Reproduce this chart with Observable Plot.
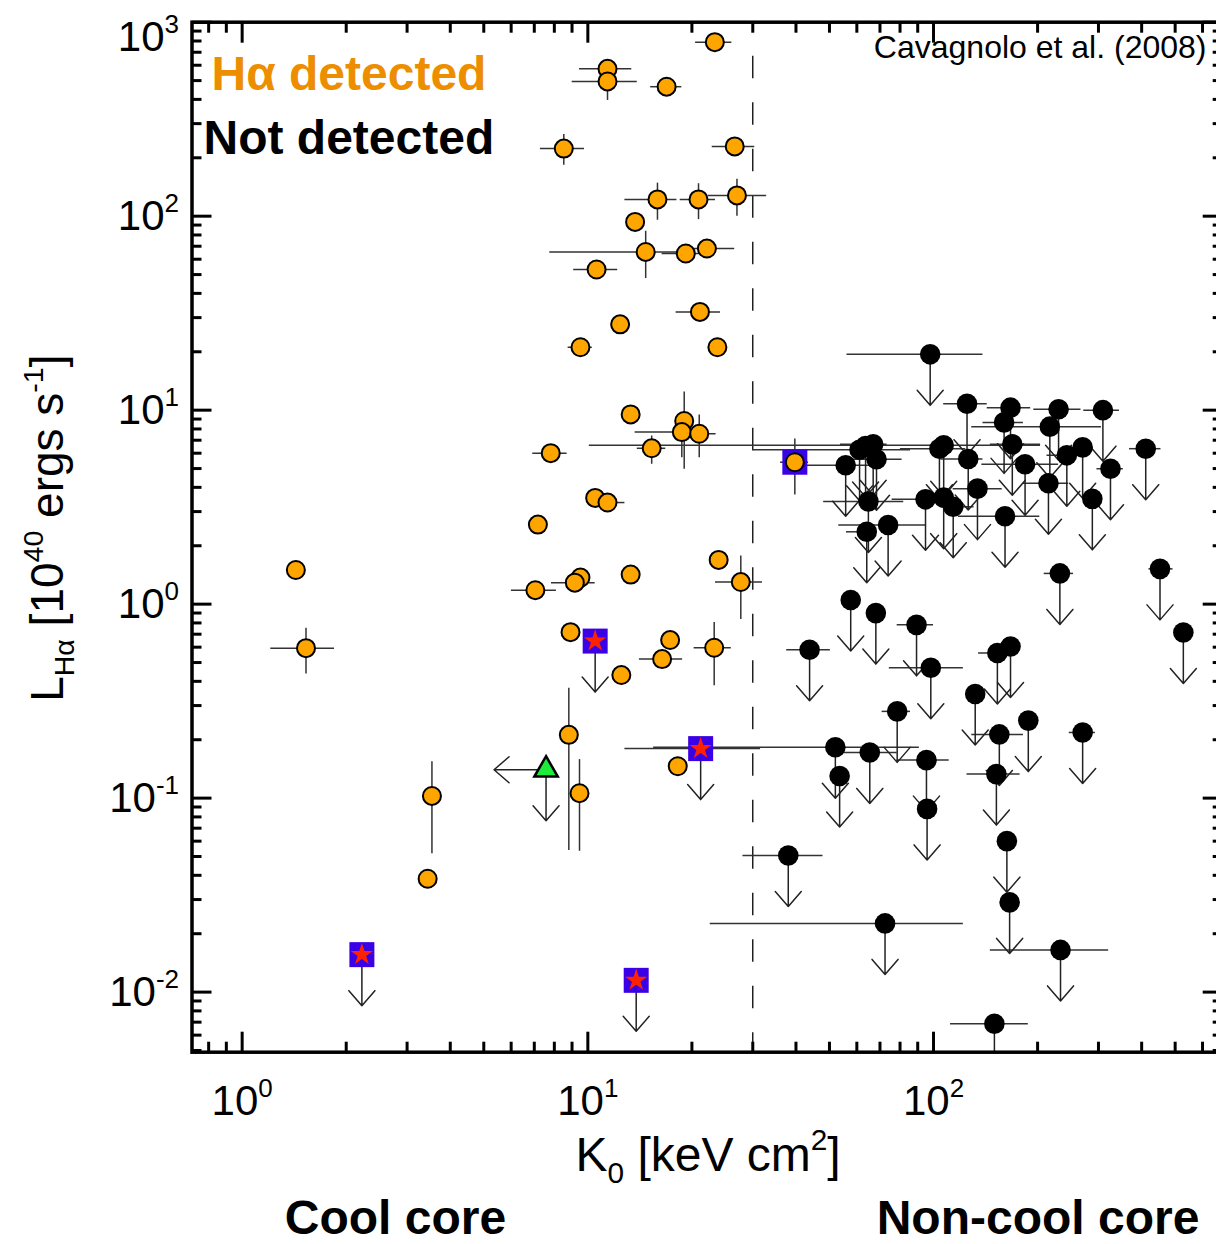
<!DOCTYPE html>
<html><head><meta charset="utf-8">
<script src="https://cdn.jsdelivr.net/npm/d3@7"></script>
<script src="https://cdn.jsdelivr.net/npm/@observablehq/plot@0.6"></script>
<style>
html,body{margin:0;padding:0;background:#fff;}
#wrap{width:1216px;height:1244px;overflow:hidden;position:relative;}
#wrap svg{display:block;max-width:none !important;}
</style></head><body><div id="wrap"></div>
<script>
// rows: [K0, L_Halpha, K_lo, K_hi, L_lo, L_hi]
const detected = [
 [23.3, 789, 20.5, 26.1, null, null],
 [11.4, 575, 9.46, 13.4, null, null],
 [11.4, 495, 9.01, 13.9, 395, 560],
 [16.9, 465, 15.2, 18.7, null, null],
 [8.52, 223, 7.29, 9.78, 183, 264],
 [26.6, 229, 22.9, 30.4, null, null],
 [15.9, 122, 12.8, 18.1, 95.3, 148],
 [20.9, 122, 18.5, 23.4, 96, 147],
 [27.0, 128, 22.3, 32.9, 99.9, 155],
 [13.7, 93.4, null, null, null, null],
 [14.7, 65.4, 7.76, 18.1, 47.7, 83.6],
 [19.2, 64.2, 16.4, 21.2, null, null],
 [22.1, 68.1, 19.8, 26.6, null, null],
 [10.6, 53.1, 9.1, 12.2, null, null],
 [12.4, 27.7, null, null, null, null],
 [21.1, 32.1, 18.0, 24.2, null, null],
 [9.52, 21.1, 8.77, 10.3, null, null],
 [23.7, 21.1, null, null, null, null],
 [13.3, 9.51, null, null, null, null],
 [19.0, 8.79, null, null, 4.96, 12.4],
 [18.7, 7.71, 13.7, 21.2, 5.69, 7.71],
 [21.0, 7.56, 18.5, 23.5, 5.69, 9.44],
 [15.3, 6.36, 13.9, 16.8, 5.26, 7.36],
 [7.81, 6.0, 6.93, 8.71, null, null],
 [10.5, 3.53, null, null, null, null],
 [11.4, 3.34, 11.4, 12.8, null, null],
 [7.17, 2.57, null, null, null, null],
 [23.9, 1.69, null, null, null, null],
 [27.7, 1.30, 23.4, 32.0, 0.833, 1.77],
 [9.52, 1.37, null, null, null, null],
 [9.17, 1.29, 7.85, 10.5, null, null],
 [7.05, 1.18, 6.01, 8.11, null, null],
 [13.3, 1.42, null, null, null, null],
 [8.91, 0.717, 8.5, 8.91, null, null],
 [17.3, 0.653, null, null, null, null],
 [16.4, 0.521, 14.1, 18.8, null, null],
 [23.2, 0.596, 20.3, 26.0, 0.38, 0.804],
 [12.5, 0.431, null, null, null, null],
 [1.43, 1.50, null, null, 1.35, 1.50],
 [1.53, 0.593, 1.21, 1.85, 0.436, 0.752],
 [8.81, 0.212, null, null, 0.0537, 0.369],
 [9.46, 0.106, null, null, 0.0532, 0.158],
 [3.54, 0.1026, null, null, 0.0516, 0.154],
 [3.44, 0.0384, null, null, null, null],
 [18.2, 0.146, null, null, null, null]
];
// detected, boxed (blue square)
const boxed = [
 [39.7, 5.39, 36.1, 43.5, 3.65, 7.1]
];
// rows: [K0, L_upper_limit, K_lo, K_hi]
const nondetected = [
 [97.8, 19.4, 56.2, 139],
 [125, 10.8, 107, 143],
 [167, 10.3, 143, 191],
 [230, 10.1, 195, 267],
 [309, 10.0, 272, 345],
 [160, 8.65, 139, 182],
 [217, 8.22, 129, 306],
 [169, 6.67, 146, 204],
 [270, 6.43, null, null],
 [411, 6.33, 369, 455],
 [243, 5.85, 213, 270],
 [325, 4.99, 297, 354],
 [184, 5.26, 138, 230],
 [215, 4.2, 182, 246],
 [288, 3.49, null, null],
 [134, 3.94, 114, 158],
 [126, 5.6, 105, 139],
 [107, 6.59, 10.1, 204],
 [104, 6.33, 80.2, 124],
 [94.8, 3.47, 75.9, 94.8],
 [107, 3.54, null, null],
 [114, 3.18, 105, 131],
 [161, 2.84, 118, 203],
 [55.7, 5.2, 43.1, 68],
 [61.1, 6.25, 30, 85.8],
 [63.6, 6.53, null, null],
 [66.9, 6.67, 53.8, 73.4],
 [68.4, 5.58, 57.5, 81.1],
 [64.8, 3.38, 48.1, 82.0],
 [64.1, 2.36, 56.0, 64.1],
 [73.9, 2.56, 53.2, 94.8],
 [232, 1.44, 209, 254],
 [452, 1.52, 420, 493],
 [57.6, 1.05, null, null],
 [68.1, 0.899, null, null],
 [89.3, 0.782, 78.5, 100],
 [528, 0.714, null, null],
 [43.8, 0.582, 37.6, 50.3],
 [98.2, 0.47, 74.5, 122],
 [132, 0.344, null, null],
 [153, 0.56, 135, 153],
 [167, 0.605, null, null],
 [188, 0.251, null, null],
 [270, 0.218, 247, 294],
 [155, 0.213, 129, 182],
 [78.5, 0.28, 71.0, 85.8],
 [52.0, 0.183, 15.5, 91.0],
 [65.4, 0.172, 54.9, 78.5],
 [53.5, 0.13, null, null],
 [95.4, 0.157, 78.5, 111],
 [95.8, 0.088, null, null],
 [152, 0.133, 125, 178],
 [163, 0.060, null, null],
 [166, 0.029, null, null],
 [233, 0.0165, 146, 321],
 [38.0, 0.0506, 28.1, 47.9],
 [72.4, 0.0226, 22.6, 122],
 [150, 0.00687, 112, 188]
];
// star-in-square upper limits: [K0, L_upper, K_lo, K_hi]
const stars = [
 [10.5, 0.645, null, null],
 [21.2, 0.18, 12.8, 31.6],
 [2.22, 0.0156, null, null],
 [13.8, 0.0115, null, null]
];
// triangle: upper limit in both K0 and L
const triangle = [[7.57, 0.14]];
const coolCoreThreshold = [30];

const majorX = [1, 10, 100];
const minorX = [0.8, 0.9, 2, 3, 4, 5, 6, 7, 8, 9, 20, 30, 40, 50, 60, 70, 80, 90, 200, 300, 400, 500, 600];
const majorY = [0.01, 0.1, 1, 10, 100, 1000];
const minorY = [0.005, 0.006, 0.007, 0.008, 0.009, 0.02, 0.03, 0.04, 0.05, 0.06, 0.07, 0.08, 0.09,
  0.2, 0.3, 0.4, 0.5, 0.6, 0.7, 0.8, 0.9, 2, 3, 4, 5, 6, 7, 8, 9,
  20, 30, 40, 50, 60, 70, 80, 90, 200, 300, 400, 500, 600, 700, 800, 900];

const legendDetected = "Hα detected";
const legendNot = "Not detected";
const citation = "Cavagnolo et al. (2008)";
const xLabel = "K_{0} [keV cm^{2}]";
const yLabel = "L_{Hα} [10^{40} ergs s^{-1}]";
const regionLeft = "Cool core";
const regionRight = "Non-cool core";

const FONT = "'Liberation Sans', Arial, Helvetica, sans-serif";
const ORANGE_TEXT = "#EC8E00";
const ERR = "#333";
const arrowShape = {draw(ctx, l) { ctx.moveTo(0, 0); ctx.lineTo(0, -l); ctx.moveTo(-13, -l + 15); ctx.lineTo(0, -l); ctx.lineTo(13, -l + 15); }};
const fmt = d => `10^{${Math.round(Math.log10(d))}}`;
const K = d => d[0], L = d => d[1];
const hasH = d => d[2] != null, hasV = d => d[4] != null;

const tickOpts = {strokeWidth: 3, fill: "none", label: null};

const plot = Plot.plot({
  width: 1222, height: 1244,
  marginLeft: 191.5, marginRight: 0.3, marginTop: 21.7, marginBottom: 192.3,
  style: {fontFamily: FONT, background: "white", color: "black", overflow: "visible", maxWidth: "none"},
  x: {type: "log", domain: [0.716, 684]},
  y: {type: "log", domain: [0.0049, 1000]},
  marks: [
    Plot.ruleX(coolCoreThreshold, {stroke: "black", strokeWidth: 1.3, strokeDasharray: "22.5,24", strokeDashoffset: 12.5}),
    // error bars
    Plot.ruleY(detected.filter(hasH), {y: L, x1: d => d[2], x2: d => d[3], stroke: ERR, strokeWidth: 1.5}),
    Plot.ruleX(detected.filter(hasV), {x: K, y1: d => d[4], y2: d => d[5], stroke: ERR, strokeWidth: 1.5}),
    Plot.ruleY(boxed, {y: L, x1: d => d[2], x2: d => d[3], stroke: ERR, strokeWidth: 1.5}),
    Plot.ruleX(boxed, {x: K, y1: d => d[4], y2: d => d[5], stroke: ERR, strokeWidth: 1.5}),
    Plot.ruleY(nondetected.filter(hasH), {y: L, x1: d => d[2], x2: d => d[3], stroke: ERR, strokeWidth: 1.5}),
    Plot.ruleY(stars.filter(hasH), {y: L, x1: d => d[2], x2: d => d[3], stroke: ERR, strokeWidth: 1.5}),
    // upper-limit arrows
    Plot.vector(nondetected, {x: K, y: L, length: 51, rotate: 180, anchor: "start", shape: arrowShape, stroke: "#222", strokeWidth: 1.5, clip: true}),
    Plot.vector(stars, {x: K, y: L, length: 51, rotate: 180, anchor: "start", shape: arrowShape, stroke: "#222", strokeWidth: 1.5, clip: true}),
    Plot.vector(triangle, {x: K, y: L, length: 51, rotate: 180, anchor: "start", shape: arrowShape, stroke: "#222", strokeWidth: 1.5}),
    Plot.vector(triangle, {x: K, y: L, length: 52, rotate: 270, anchor: "start", shape: arrowShape, stroke: "#222", strokeWidth: 1.5}),
    // symbols
    Plot.dot(nondetected, {x: K, y: L, r: 10.3, fill: "black"}),
    Plot.dot(detected, {x: K, y: L, r: 9, fill: "orange", stroke: "black", strokeWidth: 2}),
    Plot.dot(stars, {x: K, y: L, symbol: "square", r: 14.1, fill: "#3A00E6"}),
    Plot.dot(stars, {x: K, y: L, symbol: "star", r: 7, fill: "#FF2200"}),
    Plot.dot(boxed, {x: K, y: L, symbol: "square", r: 14.1, fill: "#3A00E6"}),
    Plot.dot(boxed, {x: K, y: L, r: 9, fill: "orange", stroke: "black", strokeWidth: 2}),
    Plot.dot(triangle, {x: K, y: L, symbol: "triangle", r: 8.7, fill: "#1EEA3C", stroke: "black", strokeWidth: 2.5}),
    // frame and inward ticks
    Plot.frame({stroke: "black", strokeWidth: 3.5}),
    Plot.axisX(majorX, {anchor: "bottom", tickSize: -20, ...tickOpts}),
    Plot.axisX(majorX, {anchor: "top", tickSize: -20, ...tickOpts}),
    Plot.axisX(minorX, {anchor: "bottom", tickSize: -10, ...tickOpts}),
    Plot.axisX(minorX, {anchor: "top", tickSize: -10, ...tickOpts}),
    Plot.axisY(majorY, {anchor: "left", tickSize: -20, ...tickOpts}),
    Plot.axisY(majorY, {anchor: "right", tickSize: -20, ...tickOpts}),
    Plot.axisY(minorY, {anchor: "left", tickSize: -10, ...tickOpts}),
    Plot.axisY(minorY, {anchor: "right", tickSize: -10, ...tickOpts}),
    // tick labels
    Plot.axisX(majorX, {anchor: "bottom", tickSize: 0, tickPadding: 33, tickFormat: fmt, fontSize: 42, label: null}),
    Plot.axisY(majorY, {anchor: "left", tickSize: 0, tickPadding: 13, tickFormat: fmt, fontSize: 42, label: null}),
    // texts
    Plot.text([legendDetected], {text: d => d, frameAnchor: "top-left", dx: 19.5, dy: 67.3, textAnchor: "start", lineAnchor: "bottom", fontSize: 48, fontWeight: "bold", fill: ORANGE_TEXT}),
    Plot.text([legendNot], {text: d => d, frameAnchor: "top-left", dx: 11.5, dy: 131.3, textAnchor: "start", lineAnchor: "bottom", fontSize: 48, fontWeight: "bold", fill: "black"}),
    Plot.text([citation], {text: d => d, frameAnchor: "top-right", dx: -15.7, dy: 35.3, textAnchor: "end", lineAnchor: "bottom", fontSize: 32, fill: "black"}),
    Plot.text([xLabel], {text: d => d, frameAnchor: "bottom", dx: 1, dy: 118.3, textAnchor: "middle", lineAnchor: "bottom", fontSize: 48, fill: "black"}),
    Plot.text([yLabel], {text: d => d, frameAnchor: "left", rotate: -90, dx: -129.5, dy: -9, textAnchor: "middle", lineAnchor: "bottom", fontSize: 46, fill: "black"}),
    Plot.text([regionLeft], {text: d => d, frameAnchor: "bottom-left", dx: 203.5, dy: 182, textAnchor: "middle", lineAnchor: "bottom", fontSize: 48, fontWeight: "bold", fill: "black"}),
    Plot.text([regionRight], {text: d => d, frameAnchor: "bottom-right", dx: -184.2, dy: 182, textAnchor: "middle", lineAnchor: "bottom", fontSize: 48, fontWeight: "bold", fill: "black"})
  ]
});

plot.style.maxWidth = "none";
document.getElementById("wrap").appendChild(plot);

// turn ^{..} and _{..} into real superscript / subscript tspans
const NS = "http://www.w3.org/2000/svg";
plot.querySelectorAll("text").forEach(t => {
  const s = t.textContent;
  if (!/[\^_]\{/.test(s)) return;
  const parts = [];
  let buf = "", i = 0;
  while (i < s.length) {
    if ((s[i] === "^" || s[i] === "_") && s[i + 1] === "{") {
      if (buf) parts.push({t: buf, k: 0});
      buf = "";
      const j = s.indexOf("}", i);
      parts.push({t: s.slice(i + 2, j), k: s[i] === "^" ? 1 : -1});
      i = j + 1;
    } else { buf += s[i]; i++; }
  }
  if (buf) parts.push({t: buf, k: 0});
  const fs = parseFloat(getComputedStyle(t).fontSize) || 42;
  t.textContent = "";
  let cur = 0;
  parts.forEach(p => {
    const ts = document.createElementNS(NS, "tspan");
    const target = p.k === 1 ? -0.42 : p.k === -1 ? 0.25 : 0;
    const dy = (target - cur) * fs;
    if (dy) ts.setAttribute("dy", dy.toFixed(2));
    if (p.k) ts.setAttribute("font-size", (fs * 0.62).toFixed(1));
    ts.textContent = p.t;
    cur = target;
    t.appendChild(ts);
  });
  if (s === "10^{3}") {
    const tr = t.getAttribute("transform") || "";
    t.setAttribute("transform", tr + " translate(0,15)");
  }
});
</script>
</body></html>
